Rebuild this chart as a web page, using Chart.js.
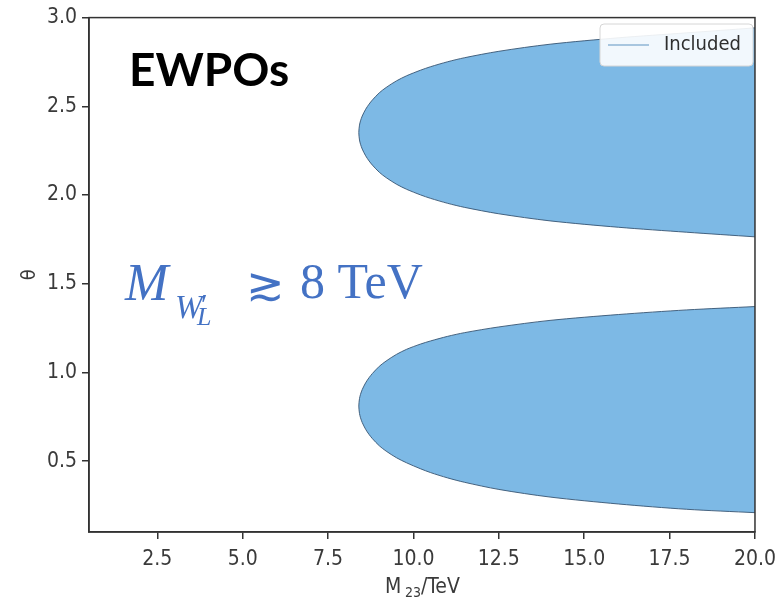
<!DOCTYPE html>
<html>
<head>
<meta charset="utf-8">
<script src="https://cdn.jsdelivr.net/npm/chart.js@4.4.1/dist/chart.umd.min.js"></script>
<style>
  html, body { margin: 0; padding: 0; background: #ffffff; }
  #c { display: block; }
</style>
</head>
<body>
<canvas id="c" width="784" height="599"></canvas>
<script>
// Allowed region boundaries in the (M23, theta) plane, traced as closed outlines:
// along the upper edge from x = 20 to the tip, then back along the lower edge.
const upperM23 = [20.0, 18.0, 16.0, 14.0, 12.5, 11.5, 11.0, 10.5, 10.2, 9.8, 9.5, 9.2, 9.0, 8.8, 8.7, 8.6, 8.5, 8.45, 8.42, 8.4,
                  8.42, 8.45, 8.5, 8.6, 8.7, 8.8, 9.0, 9.2, 9.5, 9.8, 10.2, 10.5, 11.0, 11.5, 12.5, 14.0, 16.0, 18.0, 20.0];
const upperTheta = [2.942, 2.914, 2.886, 2.850, 2.810, 2.774, 2.751, 2.723, 2.703, 2.672, 2.643, 2.606, 2.576, 2.536, 2.512, 2.483, 2.445, 2.418, 2.394, 2.352,
                    2.310, 2.286, 2.259, 2.221, 2.192, 2.168, 2.128, 2.098, 2.061, 2.032, 2.001, 1.981, 1.953, 1.930, 1.894, 1.854, 1.818, 1.790, 1.764];
const lowerM23 = [20.0, 18.0, 16.0, 14.0, 12.5, 11.5, 11.0, 10.5, 10.2, 9.8, 9.5, 9.2, 9.0, 8.8, 8.7, 8.6, 8.5, 8.45, 8.42, 8.4,
                  8.42, 8.45, 8.5, 8.6, 8.7, 8.8, 9.0, 9.2, 9.5, 9.8, 10.2, 10.5, 11.0, 11.5, 12.5, 14.0, 16.0, 18.0, 20.0];
const lowerTheta = [1.371, 1.352, 1.326, 1.293, 1.256, 1.224, 1.203, 1.177, 1.159, 1.130, 1.101, 1.064, 1.034, 0.994, 0.970, 0.941, 0.903, 0.876, 0.852, 0.810,
                    0.768, 0.744, 0.717, 0.679, 0.650, 0.626, 0.586, 0.556, 0.519, 0.490, 0.457, 0.435, 0.405, 0.380, 0.340, 0.297, 0.258, 0.228, 0.209];

const xTicks = [2.5, 5.0, 7.5, 10.0, 12.5, 15.0, 17.5, 20.0];
const yTicks = [0.5, 1.0, 1.5, 2.0, 2.5, 3.0];
const legendLabel = 'Included';

const FILL = 'rgb(125,185,229)';
const EDGE = 'rgba(55,85,115,0.9)';
const AXIS = '#333333';
const TICKFONT = '"Liberation Sans Narrow", "DejaVu Sans Condensed", "Liberation Sans", sans-serif';
const SERIF = '"Liberation Serif", "DejaVu Serif", serif';

const toPoints = (xs, ys) => xs.map((x, i) => ({ x: x, y: ys[i] }));

const region = (xs, ys) => ({
  label: legendLabel,
  data: toPoints(xs, ys),
  showLine: true,
  fill: 'shape',
  backgroundColor: FILL,
  borderColor: EDGE,
  borderWidth: 1,
  pointRadius: 0,
  pointHoverRadius: 0,
  tension: 0.3
});

// Frame, legend box and free-standing annotation text
const decorations = {
  id: 'decorations',
  afterDraw(chart) {
    const { ctx, chartArea: a } = chart;
    ctx.save();

    // full box around the plot
    ctx.strokeStyle = AXIS;
    ctx.lineWidth = 1.5;
    ctx.strokeRect(a.left, a.top, a.right - a.left, a.bottom - a.top);

    // legend
    const bx = 600, by = 24, bw = 153, bh = 42, r = 4;
    ctx.beginPath();
    ctx.moveTo(bx + r, by);
    ctx.arcTo(bx + bw, by, bx + bw, by + bh, r);
    ctx.arcTo(bx + bw, by + bh, bx, by + bh, r);
    ctx.arcTo(bx, by + bh, bx, by, r);
    ctx.arcTo(bx, by, bx + bw, by, r);
    ctx.closePath();
    ctx.fillStyle = 'rgba(255,255,255,0.9)';
    ctx.fill();
    ctx.strokeStyle = '#d6d6d6';
    ctx.lineWidth = 1;
    ctx.stroke();
    ctx.beginPath();
    ctx.moveTo(608, 45);
    ctx.lineTo(649, 45);
    ctx.strokeStyle = '#5f94c2';
    ctx.lineWidth = 1.2;
    ctx.stroke();
    ctx.fillStyle = '#2e2e2e';
    ctx.font = '20px ' + TICKFONT;
    ctx.textBaseline = 'middle';
    ctx.textAlign = 'left';
    ctx.fillText(legendLabel, 664, 45);

    // x-axis title: M_23 / TeV
    ctx.textBaseline = 'alphabetic';
    ctx.fillStyle = '#3a3a3a';
    ctx.font = '21px ' + TICKFONT;
    ctx.fillText('M', 385, 593);
    ctx.font = '14px ' + TICKFONT;
    ctx.fillText('23', 405, 597);
    ctx.font = '21px ' + TICKFONT;
    ctx.fillText('/TeV', 421, 593);

    // panel label
    ctx.fillStyle = '#000000';
    ctx.font = 'bold 46px Lato, "Open Sans", sans-serif';
    ctx.fillText('EWPOs', 129, 86);

    // mass bound
    ctx.fillStyle = '#4472C4';
    ctx.font = 'italic 52px ' + SERIF;
    ctx.fillText('M', 125, 300);
    ctx.font = 'italic 33px ' + SERIF;
    ctx.fillText('W', 175, 318);
    ctx.font = '30px ' + SERIF;
    ctx.fillText('\u2032', 201, 314);
    ctx.font = 'italic 26px ' + SERIF;
    ctx.fillText('L', 197, 325);
    ctx.font = '46px ' + SERIF;
    ctx.fillText('\u2273', 246, 300);
    ctx.font = '50px ' + SERIF;
    ctx.fillText('8 TeV', 300, 298);

    ctx.restore();
  }
};

new Chart(document.getElementById('c'), {
  type: 'scatter',
  data: {
    datasets: [region(upperM23, upperTheta), region(lowerM23, lowerTheta)]
  },
  options: {
    responsive: false,
    devicePixelRatio: 1,
    animation: false,
    events: [],
    layout: { padding: { top: 15, right: 26, left: 0, bottom: 0 } },
    plugins: {
      legend: { display: false },
      tooltip: { enabled: false },
      title: { display: false }
    },
    scales: {
      x: {
        type: 'linear',
        min: 0.5,
        max: 20.0,
        afterFit(scale) { scale.height = 67; },
        afterBuildTicks(scale) { scale.ticks = xTicks.map(v => ({ value: v })); },
        grid: { display: true, drawOnChartArea: false, drawTicks: true, tickLength: 7, color: AXIS, lineWidth: 1.5 },
        border: { display: true, color: AXIS, width: 1.5 },
        ticks: {
          padding: 8,
          color: '#3a3a3a',
          font: { family: TICKFONT, size: 21 },
          maxRotation: 0,
          callback: v => Number(v).toFixed(1)
        }
      },
      y: {
        type: 'linear',
        min: 0.1,
        max: 3.0,
        afterFit(scale) { scale.width = 89; },
        afterBuildTicks(scale) { scale.ticks = yTicks.map(v => ({ value: v })); },
        grid: { display: true, drawOnChartArea: false, drawTicks: true, tickLength: 7, color: AXIS, lineWidth: 1.5 },
        border: { display: true, color: AXIS, width: 1.5 },
        title: {
          display: true,
          text: '\u03b8',
          color: '#3a3a3a',
          font: { family: TICKFONT, size: 20 },
          padding: { top: 18, bottom: 0 }
        },
        ticks: {
          padding: 5,
          color: '#3a3a3a',
          font: { family: TICKFONT, size: 21 },
          callback: v => Number(v).toFixed(1)
        }
      }
    }
  },
  plugins: [decorations]
});
</script>
</body>
</html>
